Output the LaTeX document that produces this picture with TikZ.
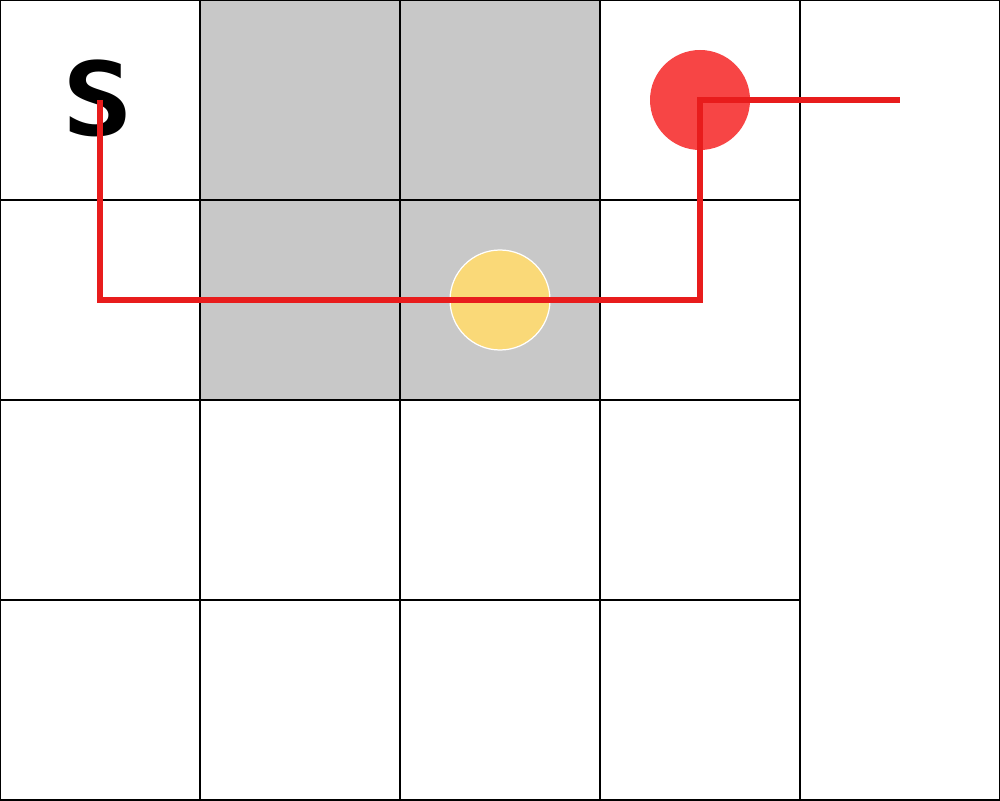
\documentclass[tikz,border=0pt]{standalone}
\usepackage{fontspec}
\newfontfamily\gridfont{DejaVu Sans Mono}
\usetikzlibrary{positioning}

\definecolor{wallgray}{HTML}{C8C8C8}
\definecolor{pathred}{HTML}{E81C1C}
\definecolor{goalred}{HTML}{F74545}
\definecolor{coinyellow}{HTML}{FAD978}

\begin{document}
\begin{tikzpicture}[
	x=2cm, y=-2cm,
	cell/.style={draw=black, line width=0.35pt},
	wall/.style={fill=wallgray},
	goal/.style={
		circle,
		fill=goalred,
		minimum size=1cm,
		inner sep=0pt
	},
	coin/.style={
		circle,
		fill=coinyellow,
		draw=white,
		line width=0.35pt,
		minimum size=1cm,
		inner sep=0pt
	},
	start/.style={
		font=\gridfont\bfseries\fontsize{29}{29}\selectfont,
		xscale=1.15,
		inner sep=0pt
	},
	route/.style={draw=pathred, line width=1.5pt}
	]
	
	\useasboundingbox (0,0) rectangle (5,4);
	
	% blocked cells
	\fill[wall] (1,0) rectangle (3,2);
	
	% grid
	\foreach \c in {0,...,3}
	\foreach \r in {0,...,3}
	\draw[cell] (\c,\r) rectangle ++(1,1);
	\draw[cell] (4,0) rectangle (5,4);
	
	\node[goal] (goal) at (3.5,0.5) {};
	\node[coin] (coin) at (2.5,1.5) {};
	\node[start] (start) at (0.49,0.49) {S};
	
	\coordinate (s) at (0.5,0.5);
	\coordinate (turn) at (0.5,1.5);
	\coordinate (rise) at (3.5,1.5);
	\coordinate (exit) at (4.5,0.5);
	
	\draw[route] (s) -- (turn) -- (coin.center) -- (rise) -- (goal.center) -- (exit);
\end{tikzpicture}
\end{document}
